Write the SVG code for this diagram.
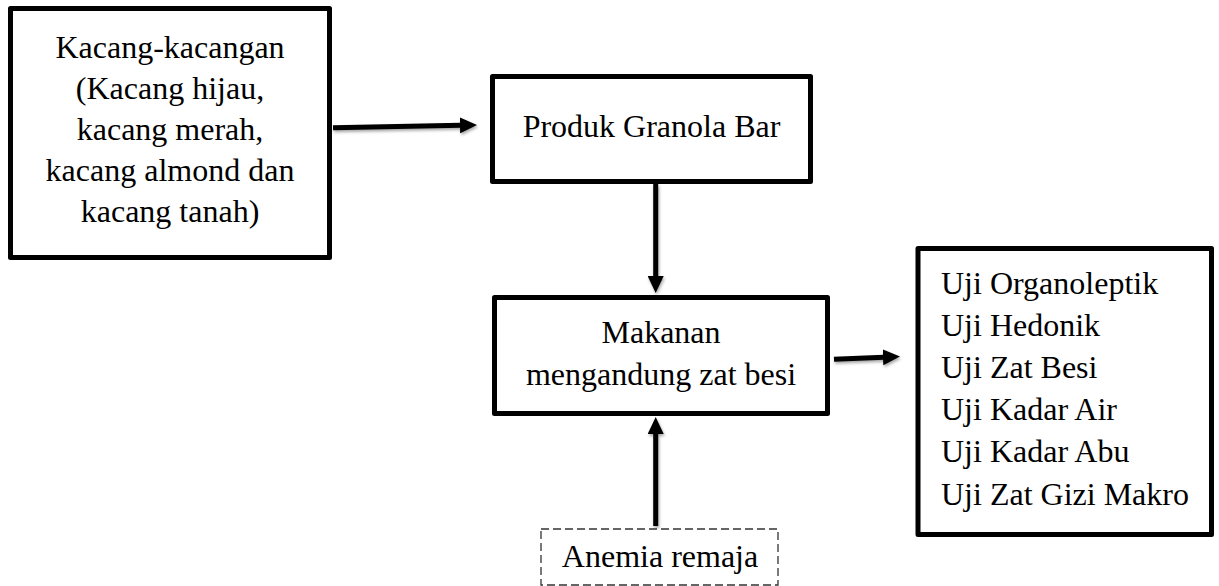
<svg xmlns="http://www.w3.org/2000/svg" width="1219" height="586" viewBox="0 0 1219 586">
<style>
.box{fill:#fff;stroke:#000;stroke-width:5;stroke-linejoin:round}
.dash{fill:#fff;stroke:#333;stroke-width:1.3;stroke-dasharray:8 4}
.t{font-family:"Liberation Serif","Tinos","DejaVu Serif",serif;font-size:32px;fill:#000}
.c{text-anchor:middle}
.conn{stroke:#000;stroke-width:5;fill:none;marker-end:url(#ah)}
</style>
<defs>
<marker id="ah" markerUnits="userSpaceOnUse" markerWidth="17" markerHeight="16" viewBox="0 0 17 16" refX="1" refY="8" orient="auto">
<path d="M0,0 L17,8 L0,16 z" fill="#000"/>
</marker>
<filter id="sh" filterUnits="userSpaceOnUse" x="0" y="0" width="1219" height="586">
<feDropShadow dx="1" dy="2" stdDeviation="1.5" flood-color="#000" flood-opacity="0.35"/>
</filter>
</defs>
<rect width="1219" height="586" fill="#fff"/>
<g id="connectors" filter="url(#sh)">
<path class="conn" d="M333,127.7 L461,125.3"/>
<path class="conn" d="M655.7,184 L655.7,277"/>
<path class="conn" d="M834,359.3 L884,357.2"/>
<path class="conn" d="M655.7,526 L655.7,433"/>
</g>
<g id="node-kacang">
<rect class="box" x="10.5" y="8.5" width="319" height="249"/>
<text class="t c" x="170" y="58">Kacang-kacangan</text>
<text class="t c" x="170" y="99">(Kacang hijau,</text>
<text class="t c" x="170" y="140">kacang merah,</text>
<text class="t c" x="170" y="181">kacang almond dan</text>
<text class="t c" x="170" y="222">kacang tanah)</text>
</g>
<g id="node-granola">
<rect class="box" x="492.5" y="76.5" width="318" height="105"/>
<text class="t c" x="651.5" y="137">Produk Granola Bar</text>
</g>
<g id="node-makanan">
<rect class="box" x="494.5" y="297.5" width="333" height="116"/>
<text class="t c" x="661" y="343">Makanan</text>
<text class="t c" x="661" y="385">mengandung zat besi</text>
</g>
<g id="node-uji">
<rect class="box" x="918" y="248.5" width="293.5" height="286"/>
<text class="t" x="941" y="293.5">Uji Organoleptik</text>
<text class="t" x="941" y="335.7">Uji Hedonik</text>
<text class="t" x="941" y="377.9">Uji Zat Besi</text>
<text class="t" x="941" y="420.1">Uji Kadar Air</text>
<text class="t" x="941" y="462.3">Uji Kadar Abu</text>
<text class="t" x="941" y="504.5">Uji Zat Gizi Makro</text>
</g>
<g id="node-anemia">
<rect class="dash" x="541" y="529" width="237" height="56"/>
<text class="t c" x="660" y="567">Anemia remaja</text>
</g>
</svg>
